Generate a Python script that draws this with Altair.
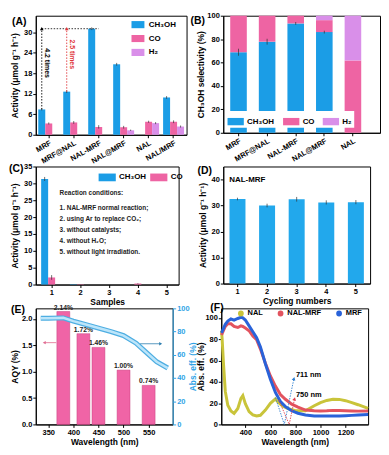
import altair as alt
import pandas as pd

FONT = "Liberation Sans"
BLUE = "#1B9DE6"
PINK = "#EE64A3"
PURPLE = "#D98FE9"
RECT_A = "M-1,-0.55L1,-0.55L1,0.55L-1,0.55Z"
RECT_B = "M-1,-0.45L1,-0.45L1,0.45L-1,0.45Z"

def panel_label(txt, px, py):
    return alt.Chart(pd.DataFrame({"t": [txt]})).mark_text(
        align="left", baseline="middle", font=FONT, fontWeight="bold", fontSize=10.5
    ).encode(text="t:N", x=alt.value(px), y=alt.value(py))

# ---------------- (A) activity of samples
a_cats = ["MRF", "MRF@NAL", "NAL-MRF", "NAL@MRF", "NAL", "NAL/MRF"]
a_series = ["CH₃OH", "CO", "H₂"]
a_ch3oh = [7.4, 12.6, 31.0, 20.6, 0.0, 10.9]
a_co = [3.3, 3.6, 2.3, 2.2, 3.8, 3.8]
a_h2 = [0.0, 0.0, 0.0, 1.3, 3.4, 2.4]
a_ch3oh_err = [0.3, 0.4, 0.4, 0.4, 0.0, 0.4]
a_co_err = [0.3, 0.4, 0.5, 0.4, 0.3, 0.4]
a_h2_err = [0.0, 0.0, 0.0, 0.2, 0.3, 0.3]
a_arrow_from = ["MRF", "MRF@NAL"]
a_arrow_text = ["4.2 times", "2.5 times"]

rows = []
for s, vals, errs in zip(a_series, [a_ch3oh, a_co, a_h2], [a_ch3oh_err, a_co_err, a_h2_err]):
    for c, v, e in zip(a_cats, vals, errs):
        rows.append({"cat": c, "series": s, "val": v, "lo": v - e, "hi": v + e})
dfA = pd.DataFrame(rows)

xA = alt.X("cat:N", sort=a_cats, title=None,
           scale=alt.Scale(domain=a_cats, paddingInner=0.16, paddingOuter=0.1),
           axis=alt.Axis(labelAngle=330, labelPadding=1, labelFontSize=7.5))
xoA = alt.XOffset("series:N", sort=a_series, scale=alt.Scale(domain=a_series, paddingInner=0))
ysA = alt.Scale(domain=[0, 34.8], nice=False)
yaxA = alt.Axis(values=[0, 6, 12, 18, 24, 30], title="Activity (μmol g⁻¹ h⁻¹)",
                minExtent=14, maxExtent=14, titlePadding=2)
colA = alt.Color("series:N", sort=a_series,
                 scale=alt.Scale(domain=a_series, range=[BLUE, PINK, PURPLE]),
                 legend=alt.Legend(title=None, orient="none", legendX=96, legendY=2,
                                   symbolType=RECT_A, symbolSize=170, symbolStrokeWidth=0,
                                   labelFontSize=8, rowPadding=3, labelOffset=4))

A_bars = alt.Chart(dfA).mark_bar().encode(x=xA, xOffset=xoA,
                                         y=alt.Y("val:Q", scale=ysA, axis=yaxA), color=colA)
A_err = alt.Chart(dfA).mark_rule(color="#333", strokeWidth=0.7).encode(
    x=xA, xOffset=xoA, y=alt.Y("lo:Q", scale=ysA, axis=yaxA), y2="hi:Q")

top_val = a_ch3oh[a_cats.index("NAL-MRF")]
dfH = pd.DataFrame({"cat": ["MRF"], "cat2": ["NAL-MRF"], "series": ["CH₃OH"], "y": [top_val]})
A_h = alt.Chart(dfH).mark_rule(color="black", strokeDash=[1.5, 1.5], strokeWidth=0.8).encode(
    x=xA, x2="cat2:N", xOffset=xoA, y=alt.Y("y:Q", scale=ysA, axis=yaxA))

A_layers = [A_bars, A_err, A_h]
for cat, txt, clr in zip(a_arrow_from, a_arrow_text, ["black", "#E0353A"]):
    d = pd.DataFrame({"cat": [cat], "series": ["CH₃OH"],
                      "y0": [a_ch3oh[a_cats.index(cat)]], "y1": [top_val], "txt": [txt]})
    base = alt.Chart(d)
    A_layers.append(base.mark_rule(color=clr, strokeDash=[1.5, 1.5], strokeWidth=0.9).encode(
        x=xA, xOffset=xoA, y=alt.Y("y0:Q", scale=ysA, axis=yaxA), y2="y1:Q"))
    A_layers.append(base.mark_point(shape="triangle-up", filled=True, color=clr, size=14, opacity=1).encode(
        x=xA, xOffset=xoA, y=alt.Y("y1:Q", scale=ysA, axis=yaxA)))
    A_layers.append(base.transform_calculate(mid="(datum.y0 + datum.y1) / 2").mark_text(
        angle=90, baseline="bottom", align="center", dy=-2, dx=-6, color=clr,
        font=FONT, fontWeight="bold", fontSize=7).encode(
        x=xA, xOffset=xoA, y=alt.Y("mid:Q", scale=ysA, axis=yaxA), text="txt:N"))
A_layers.append(panel_label("(A)", -24, 6))
chartA = alt.layer(*A_layers).properties(width=152, height=120)

# ---------------- (B) selectivity
b_cats = ["MRF", "MRF@NAL", "NAL-MRF", "NAL@MRF", "NAL"]
b_ch3oh = [68.8, 77.8, 93.4, 86.0, 0.0]
b_co = [31.2, 22.2, 6.6, 10.2, 61.8]
b_h2 = [0.0, 0.0, 0.0, 3.8, 38.2]
b_ch3oh_err = [3.0, 2.5, 1.2, 1.2, 0.0]

rows = []
for k, (s, vals) in enumerate(zip(a_series, [b_ch3oh, b_co, b_h2])):
    for c, v in zip(b_cats, vals):
        rows.append({"cat": c, "series": s, "val": v, "ord": k})
dfB = pd.DataFrame(rows)
dfBe = pd.DataFrame({"cat": b_cats,
                     "lo": [v - e for v, e in zip(b_ch3oh, b_ch3oh_err)],
                     "hi": [v + e for v, e in zip(b_ch3oh, b_ch3oh_err)]})
xB = alt.X("cat:N", sort=b_cats, title=None,
           scale=alt.Scale(domain=b_cats, paddingInner=0.42, paddingOuter=0.45, align=0.27),
           axis=alt.Axis(labelAngle=330, labelPadding=1, labelFontSize=7.5))
ysB = alt.Scale(domain=[0, 100], nice=False)
yaxB = alt.Axis(values=[0, 20, 40, 60, 80, 100], title="CH₃OH selectivity (%)",
                minExtent=16, maxExtent=16, titlePadding=2)
B_bars = alt.Chart(dfB).mark_bar().encode(
    x=xB, y=alt.Y("val:Q", stack="zero", scale=ysB, axis=yaxB),
    color=alt.Color("series:N", sort=a_series,
                    scale=alt.Scale(domain=a_series, range=[BLUE, PINK, PURPLE]),
                    legend=alt.Legend(title=None, orient="none", legendX=2, legendY=96,
                                      direction="horizontal", fillColor="white", padding=2,
                                      symbolType=RECT_B, symbolSize=270, symbolStrokeWidth=0,
                                      labelFontSize=8, columnPadding=8, labelOffset=3)),
    order=alt.Order("ord:Q"))
B_err = alt.Chart(dfBe).mark_rule(color="#333", strokeWidth=0.7).encode(
    x=xB, y=alt.Y("lo:Q", scale=ysB, axis=yaxB), y2="hi:Q")
chartB = alt.layer(B_bars, B_err, panel_label("(B)", -33, 5)).properties(width=158, height=118)

# ---------------- (C) control experiments
c_samples = ["1", "2", "3", "4", "5"]
c_series = ["CH₃OH", "CO"]
c_ch3oh = [31.3, 0.1, 0.0, 0.0, 0.0]
c_co = [2.1, 0.1, 0.0, 0.3, 0.0]
c_ch3oh_err = [0.6, 0.0, 0.0, 0.0, 0.0]
c_co_err = [0.7, 0.0, 0.0, 0.1, 0.0]
c_note_title = "Reaction conditions:"
c_notes = ["1. NAL-MRF normal reaction;", "2. using Ar to replace CO₂;", "3. without catalysts;",
           "4. without H₂O;", "5. without light  irradiation."]
rows = []
for s, vals, errs in zip(c_series, [c_ch3oh, c_co], [c_ch3oh_err, c_co_err]):
    for c, v, e in zip(c_samples, vals, errs):
        rows.append({"cat": c, "series": s, "val": v, "lo": v - e, "hi": v + e})
dfC = pd.DataFrame(rows)
xC = alt.X("cat:N", sort=c_samples, title="Samples",
           scale=alt.Scale(domain=c_samples, paddingInner=0.25, paddingOuter=0.11, align=0.85),
           axis=alt.Axis(labelAngle=0, titlePadding=2))
xoC = alt.XOffset("series:N", sort=c_series, scale=alt.Scale(domain=c_series, paddingInner=0))
ysC = alt.Scale(domain=[0, 35], nice=False)
yaxC = alt.Axis(values=[0, 5, 10, 15, 20, 25, 30, 35], title="Activity (μmol g⁻¹ h⁻¹)",
                minExtent=14, maxExtent=14, titlePadding=2)
C_bars = alt.Chart(dfC).mark_bar().encode(
    x=xC, xOffset=xoC, y=alt.Y("val:Q", scale=ysC, axis=yaxC),
    color=alt.Color("series:N", sort=c_series,
                    scale=alt.Scale(domain=c_series, range=[BLUE, PINK]),
                    legend=alt.Legend(title=None, orient="none", legendX=63, legendY=2,
                                      direction="horizontal", symbolType=RECT_B, symbolSize=300,
                                      symbolStrokeWidth=0, labelFontSize=8, columnPadding=3,
                                      labelOffset=3)))
C_err = alt.Chart(dfC).mark_rule(color="#333", strokeWidth=0.7).encode(
    x=xC, xOffset=xoC, y=alt.Y("lo:Q", scale=ysC, axis=yaxC), y2="hi:Q")
C_t1 = alt.Chart(pd.DataFrame({"t": [c_note_title]})).mark_text(
    align="left", baseline="middle", font=FONT, fontWeight="bold", fontSize=6.5, color="#222"
).encode(text="t:N", x=alt.value(24), y=alt.value(27))
C_t2 = alt.Chart(pd.DataFrame({"t": [0]})).mark_text(
    align="left", baseline="middle", font=FONT, fontWeight="bold", fontSize=6.5, color="#222",
    lineHeight=11, text=c_notes
).encode(x=alt.value(24), y=alt.value(42))
chartC = alt.layer(C_bars, C_err, C_t1, C_t2, panel_label("(C)", -27, 3)).properties(width=144, height=119)

# ---------------- (D) cycling
d_cycles = ["1", "2", "3", "4", "5"]
d_vals = [32.5, 30.0, 32.4, 31.2, 31.3]
d_errs = [0.5, 0.7, 0.9, 0.8, 0.8]
dfD = pd.DataFrame({"cat": d_cycles, "val": d_vals,
                    "lo": [v - e for v, e in zip(d_vals, d_errs)],
                    "hi": [v + e for v, e in zip(d_vals, d_errs)]})
xD = alt.X("cat:N", sort=d_cycles, title="Cycling numbers",
           scale=alt.Scale(domain=d_cycles, paddingInner=0.46, paddingOuter=0.21),
           axis=alt.Axis(labelAngle=0, titlePadding=2))
ysD = alt.Scale(domain=[0, 45], nice=False)
yaxD = alt.Axis(values=[0, 10, 20, 30, 40], title="Activity (μmol g⁻¹ h⁻¹)",
                minExtent=14, maxExtent=14, titlePadding=2)
D_bars = alt.Chart(dfD).mark_bar(color="#22A8EC").encode(x=xD, y=alt.Y("val:Q", scale=ysD, axis=yaxD))
D_err = alt.Chart(dfD).mark_rule(color="#333", strokeWidth=0.7).encode(
    x=xD, y=alt.Y("lo:Q", scale=ysD, axis=yaxD), y2="hi:Q")
D_txt = alt.Chart(pd.DataFrame({"t": ["NAL-MRF"]})).mark_text(
    align="left", baseline="middle", font=FONT, fontWeight="bold", fontSize=8
).encode(text="t:N", x=alt.value(6), y=alt.value(14))
chartD = alt.layer(D_bars, D_err, D_txt, panel_label("(D)", -26, 5)).properties(width=148, height=118)

# ---------------- (E) AQY
e_wl = [380, 420, 450, 500, 550]
e_aqy = [2.14, 1.72, 1.46, 1.03, 0.74]
e_labels = ["2.14%", "1.72%", "1.46%", "1.00%", "0.74%"]
e_abs_wl = [335, 350, 380, 400, 425, 450, 475, 500, 525, 548, 566, 588]
e_abs = [91.5, 91.5, 91.8, 89.0, 86.0, 83.0, 80.0, 76.5, 70.0, 61.0, 54.0, 48.6]
e_arrow_left = [366, 342, 1.55]
e_arrow_right = [533, 574, 69.5]
dfE = pd.DataFrame({"wl": e_wl, "aqy": e_aqy, "lab": e_labels})
dfEabs = pd.DataFrame({"wl": e_abs_wl, "abs": e_abs})
xsE = alt.Scale(domain=[335, 588], nice=False)
xaxE = alt.Axis(values=[350, 400, 450, 500, 550], title="Wavelength (nm)", titlePadding=2)
ysE = alt.Scale(domain=[0, 2.2], nice=False)
yaxE = alt.Axis(values=[0, 0.5, 1.0, 1.5, 2.0], format=".1f", title="AQY (%)",
                minExtent=14, maxExtent=14, titlePadding=2)
ABS = "#2FA3E6"
ysE2 = alt.Scale(domain=[0, 100], nice=False)
yaxE2 = alt.Axis(orient="right", values=[0, 20, 40, 60, 80, 100], title="Abs. eff. (%)",
                 labelColor=ABS, titleColor=ABS, domainColor=ABS, tickColor=ABS,
                 titleAngle=270, titleBaseline="top", titlePadding=2, minExtent=14, maxExtent=14)
E_bars = alt.Chart(dfE).mark_bar(size=13, color="#F064A6", stroke="#C8407E", strokeWidth=0.5).encode(
    x=alt.X("wl:Q", scale=xsE, axis=xaxE), y=alt.Y("aqy:Q", scale=ysE, axis=yaxE))
E_lab = alt.Chart(dfE).mark_text(baseline="bottom", dy=-1, font=FONT, fontWeight="bold",
                                 fontSize=6.8, color="#222").encode(
    x=alt.X("wl:Q", scale=xsE, axis=xaxE), y=alt.Y("aqy:Q", scale=ysE, axis=yaxE), text="lab:N")
dfEl = pd.DataFrame({"x0": [e_arrow_left[0]], "x1": [e_arrow_left[1]], "y": [e_arrow_left[2]]})
E_al = alt.Chart(dfEl).mark_rule(color="#E06A90", strokeWidth=0.8).encode(
    x=alt.X("x0:Q", scale=xsE, axis=xaxE), x2="x1:Q", y=alt.Y("y:Q", scale=ysE, axis=yaxE))
E_alh = alt.Chart(dfEl).mark_point(shape="triangle-left", filled=True, size=12, color="#E06A90", opacity=1).encode(
    x=alt.X("x1:Q", scale=xsE, axis=xaxE), y=alt.Y("y:Q", scale=ysE, axis=yaxE))
left = alt.layer(E_bars, E_lab, E_al, E_alh, panel_label("(E)", -25, 2))
dfEr = pd.DataFrame({"x0": [e_arrow_right[0]], "x1": [e_arrow_right[1]], "y": [e_arrow_right[2]]})
E_line1 = alt.Chart(dfEabs).mark_line(color="#4EAEE2", strokeWidth=5).encode(
    x=alt.X("wl:Q", scale=xsE, axis=xaxE), y=alt.Y("abs:Q", scale=ysE2, axis=yaxE2))
E_line2 = alt.Chart(dfEabs).mark_line(color="#BCE5FA", strokeWidth=2.6).encode(
    x=alt.X("wl:Q", scale=xsE, axis=xaxE), y=alt.Y("abs:Q", scale=ysE2, axis=yaxE2))
E_ar = alt.Chart(dfEr).mark_rule(color="#2F7FAF", strokeWidth=0.8).encode(
    x=alt.X("x0:Q", scale=xsE, axis=xaxE), x2="x1:Q", y=alt.Y("y:Q", scale=ysE2, axis=yaxE2))
E_arh = alt.Chart(dfEr).mark_point(shape="triangle-right", filled=True, size=12, color="#2F7FAF", opacity=1).encode(
    x=alt.X("x1:Q", scale=xsE, axis=xaxE), y=alt.Y("y:Q", scale=ysE2, axis=yaxE2))
right = alt.layer(E_line1, E_line2, E_ar, E_arh)
chartE = alt.layer(left, right).resolve_scale(y="independent").properties(width=138, height=117)

# ---------------- (F) absorption spectra
f_series = ["NAL", "NAL-MRF", "MRF"]
f_nal_wl = [210, 215, 225, 240, 260, 285, 310, 340, 365, 380, 400, 430, 460, 490, 520, 560, 600,
            640, 660, 700, 750, 800, 880, 950, 1000, 1050, 1100, 1150, 1200, 1250, 1300, 1380]
f_nal = [88, 80, 58, 31, 18, 12.6, 10.4, 15, 24.5, 27, 19.5, 12, 9, 7.9, 8.6, 13.5, 19.8,
         24, 21, 17, 14.5, 12.8, 12.8, 17.5, 20.5, 22.5, 23.6, 23.5, 22.3, 20.5, 18.5, 15]
f_nalmrf_wl = [210, 225, 240, 260, 285, 310, 340, 365, 380, 400, 430, 460, 490, 520, 560, 600, 640,
               680, 720, 770, 820, 880, 950, 1000, 1050, 1100, 1150, 1200, 1250, 1300, 1380]
f_nalmrf = [84, 88, 92, 94.5, 94.5, 92, 91, 92.5, 92, 90.5, 88, 83, 79.5, 71, 57.5, 45.5, 36,
            28, 23.6, 19, 16.3, 13.5, 12.8, 12.6, 12.8, 13.2, 13, 12.8, 12.6, 12.5, 12.6]
f_mrf_wl = [210, 225, 240, 260, 285, 310, 340, 365, 380, 400, 430, 460, 490, 520, 560, 600, 640,
            680, 720, 770, 820, 880, 950, 1000, 1050, 1100, 1150, 1200, 1250, 1300, 1380]
f_mrf = [86, 90, 94, 97, 99, 98, 99.5, 100.5, 100, 98, 92.5, 87, 81.5, 73, 57, 42.5, 30,
         21.5, 16.7, 12.8, 10.5, 8.8, 8, 7.9, 7.9, 8, 8, 8.2, 8.5, 8.8, 9.4]
f_tan_blue = {"x": [641, 711, 788], "y": [25, 0, 43]}
f_tan_red = {"x": [667, 750, 793], "y": [23, 0, 24]}
f_notes = ["711 nm", "750 nm"]
f_note_y = [46, 28]

rows = []
for s, xs, ys in zip(f_series, [f_nal_wl, f_nalmrf_wl, f_mrf_wl], [f_nal, f_nalmrf, f_mrf]):
    for k, (xv, yv) in enumerate(zip(xs, ys)):
        rows.append({"series": s, "wl": xv, "abs": yv, "k": k})
dfF = pd.DataFrame(rows)
xsF = alt.Scale(domain=[208, 1380], nice=False)
xaxF = alt.Axis(values=[400, 600, 800, 1000, 1200], format="d", title="Wavelength (nm)", titlePadding=2)
ysF = alt.Scale(domain=[0, 109], nice=False)
yaxF = alt.Axis(values=[0, 20, 40, 60, 80, 100], title="Abs. eff. (%)",
                minExtent=14, maxExtent=14, titlePadding=2)
F_lines = alt.Chart(dfF).mark_line(strokeWidth=3).encode(
    x=alt.X("wl:Q", scale=xsF, axis=xaxF), y=alt.Y("abs:Q", scale=ysF, axis=yaxF),
    color=alt.Color("series:N", sort=f_series,
                    scale=alt.Scale(domain=f_series, range=["#C9C43A", "#E2535F", "#2962D9"]),
                    legend=alt.Legend(title=None, orient="none", legendX=16, legendY=1,
                                      direction="horizontal", symbolType="circle", symbolSize=8,
                                      symbolStrokeWidth=3, labelFontSize=7.5, columnPadding=10,
                                      labelOffset=3)),
    order=alt.Order("k:Q"))
F_layers = [F_lines]
for tan, clr in zip([f_tan_blue, f_tan_red], ["#2F7FD0", "#E0404E"]):
    d = pd.DataFrame({"wl": tan["x"], "abs": tan["y"], "k": [0, 1, 2]})
    F_layers.append(alt.Chart(d).mark_line(color=clr, strokeDash=[1.5, 1.2], strokeWidth=0.9).encode(
        x=alt.X("wl:Q", scale=xsF, axis=xaxF), y=alt.Y("abs:Q", scale=ysF, axis=yaxF), order="k:Q"))
    dh = pd.DataFrame({"wl": [tan["x"][-1]], "abs": [tan["y"][-1]]})
    F_layers.append(alt.Chart(dh).mark_point(shape="triangle-up", filled=True, size=14, color=clr,
                                             opacity=1, angle=16).encode(
        x=alt.X("wl:Q", scale=xsF, axis=xaxF), y=alt.Y("abs:Q", scale=ysF, axis=yaxF)))
dfFn = pd.DataFrame({"t": f_notes, "abs": f_note_y, "wl": [804, 804]})
F_layers.append(alt.Chart(dfFn).mark_text(align="left", baseline="middle", font=FONT,
                                          fontWeight="bold", fontSize=7.5).encode(
    x=alt.X("wl:Q", scale=xsF, axis=xaxF), y=alt.Y("abs:Q", scale=ysF, axis=yaxF), text="t:N"))
F_layers.append(panel_label("(F)", -11, 0))
chartF = alt.layer(*F_layers).properties(width=148, height=117)

# ---------------- layout
def indep(c):
    return c.resolve_scale(color="independent").resolve_legend(color="independent")

row1 = indep(alt.hconcat(chartA, chartB, spacing=37, bounds="flush"))
row2 = indep(alt.hconcat(chartC, chartD, spacing=45, bounds="flush"))
row3 = indep(alt.hconcat(chartE, chartF, spacing=49, bounds="flush"))
lower = indep(alt.vconcat(row2, row3, spacing=-5))
chart = indep(alt.vconcat(row1, lower, spacing=-4)).properties(
    padding={"left": 0, "top": 1, "right": 0, "bottom": 0}
).configure_view(stroke="black", strokeWidth=1).configure_axis(
    labelFont=FONT, titleFont=FONT, labelFontWeight="bold", titleFontWeight="bold",
    labelFontSize=7.5, titleFontSize=8.5, labelColor="black", titleColor="black",
    domainColor="black", tickColor="black", tickSize=3, grid=False, labelPadding=1
).configure_legend(labelFont=FONT, labelFontWeight="bold").configure_text(font=FONT)

chart.save("out.html", embed_options={"renderer": "svg", "actions": False})
